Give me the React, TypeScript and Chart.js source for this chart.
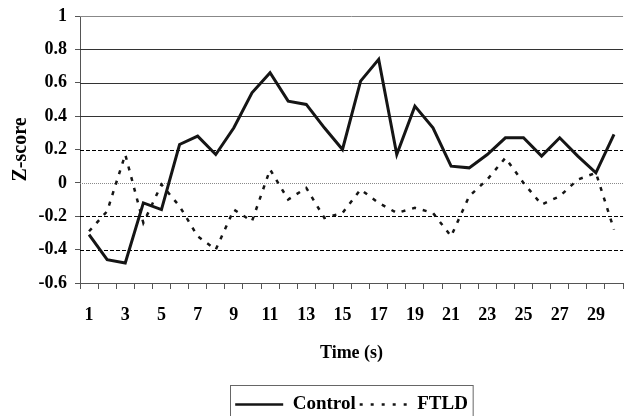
import React, { useEffect, useRef } from "react";
import { Chart, registerables } from "chart.js";

Chart.register(...registerables);

const timeLabels = Array.from({ length: 30 }, (_, i) => String(i + 1));
const controlValues = [-0.31, -0.46, -0.48, -0.12, -0.16, 0.23, 0.28, 0.17, 0.33, 0.54, 0.66, 0.49, 0.47, 0.33, 0.2, 0.61, 0.74, 0.17, 0.46, 0.33, 0.1, 0.09, 0.17, 0.27, 0.27, 0.16, 0.27, 0.16, 0.06, 0.29];
const ftldValues = [-0.29, -0.17, 0.17, -0.24, -0.01, -0.14, -0.32, -0.4, -0.16, -0.23, 0.08, -0.1, -0.03, -0.21, -0.18, -0.04, -0.12, -0.18, -0.15, -0.18, -0.32, -0.08, 0.02, 0.15, 0.0, -0.13, -0.08, 0.02, 0.06, -0.28];
const yTicks = [-0.6, -0.4, -0.2, 0, 0.2, 0.4, 0.6, 0.8, 1];
const seriesNames = ["Control", "FTLD"];

const FONT = '"Liberation Serif", "Times New Roman", serif';

const gridPlugin = {
  id: "customGrid",
  beforeDatasetsDraw(chart: any) {
    const { ctx, chartArea } = chart;
    const y = chart.scales.y;
    ctx.save();
    yTicks.forEach((v) => {
      if (v === -0.6) return;
      const py = Math.round(y.getPixelForValue(v)) + 0.5;
      ctx.beginPath();
      ctx.lineWidth = 1;
      if (v === 0) {
        ctx.strokeStyle = "#8a8a8a";
        ctx.setLineDash([1, 1]);
      } else if (v < 0.3) {
        ctx.strokeStyle = "#000";
        ctx.setLineDash([4, 2]);
      } else if (v === 1) {
        ctx.strokeStyle = "#888";
        ctx.setLineDash([]);
      } else {
        ctx.strokeStyle = "#333";
        ctx.setLineDash([]);
      }
      ctx.moveTo(chartArea.left, py);
      ctx.lineTo(chartArea.right, py);
      ctx.stroke();
    });
    ctx.restore();
  },
};

const legendBoxPlugin = {
  id: "legendBox",
  afterDraw(chart: any) {
    const lg = chart.legend;
    if (!lg || !lg.legendHitBoxes || !lg.legendHitBoxes.length) return;
    const boxes = lg.legendHitBoxes;
    const left = Math.min(...boxes.map((b: any) => b.left)) - 5;
    const right = Math.max(...boxes.map((b: any) => b.left + b.width)) + 5;
    const top = Math.min(...boxes.map((b: any) => b.top)) - 10;
    const { ctx } = chart;
    ctx.save();
    ctx.strokeStyle = "#666";
    ctx.lineWidth = 1;
    ctx.setLineDash([]);
    ctx.strokeRect(Math.round(left) + 0.5, Math.round(top) + 0.5, right - left, 60);
    ctx.restore();
  },
};

export default function App() {
  const ref = useRef<HTMLCanvasElement | null>(null);
  useEffect(() => {
    document.body.style.margin = "0";
    const canvas = ref.current!;
    const chart = new Chart(canvas, {
      type: "line",
      data: {
        labels: timeLabels,
        datasets: [
          {
            label: seriesNames[0],
            data: controlValues,
            borderColor: "#151515",
            borderWidth: 3,
            pointRadius: 0,
            tension: 0,
            fill: false,
          },
          {
            label: seriesNames[1],
            data: ftldValues,
            borderColor: "#151515",
            borderWidth: 2.5,
            borderDash: [4, 7],
            pointRadius: 0,
            tension: 0,
            fill: false,
          },
        ],
      },
      options: {
        responsive: false,
        animation: false,
        devicePixelRatio: 1,
        layout: { padding: { top: 16, right: 0, left: 0, bottom: -8 } },
        plugins: {
          tooltip: { enabled: false },
          legend: {
            display: true,
            position: "bottom",
            fullSize: false,
            labels: {
              usePointStyle: true,
              pointStyleWidth: 48,
              padding: 4,
              color: "#000",
              font: { family: FONT, size: 19, weight: "bold" },
              generateLabels: (c: any) =>
                c.data.datasets.map((ds: any, i: number) => ({
                  text: ds.label,
                  fillStyle: "#151515",
                  strokeStyle: "#151515",
                  lineWidth: 2.5,
                  lineDash: i === 0 ? [] : [3, 8],
                  pointStyle: "line",
                  hidden: false,
                  datasetIndex: i,
                  fontColor: "#000",
                })),
            },
          },
        },
        scales: {
          x: {
            type: "category",
            offset: true,
            grid: {
              offset: true,
              drawOnChartArea: false,
              drawTicks: true,
              tickLength: 6,
              tickColor: "#555",
            },
            border: { display: true, color: "#555", width: 1 },
            ticks: {
              autoSkip: false,
              maxRotation: 0,
              minRotation: 0,
              padding: 16,
              color: "#000",
              font: { family: FONT, size: 18, weight: "bold" },
              callback: (_v: any, idx: number) => (idx % 2 === 0 ? timeLabels[idx] : ""),
            },
            title: {
              display: true,
              text: "Time (s)",
              color: "#000",
              font: { family: FONT, size: 18, weight: "bold" },
              padding: { top: 0, bottom: 27 },
            },
            afterFit: (s: any) => {
              s.height = 108;
            },
          },
          y: {
            type: "linear",
            min: -0.6,
            max: 1,
            afterBuildTicks: (s: any) => {
              s.ticks = yTicks.map((v) => ({ value: v }));
            },
            grid: {
              drawOnChartArea: false,
              drawTicks: true,
              tickLength: 5,
              tickColor: "#555",
            },
            border: { display: true, color: "#555", width: 1 },
            ticks: {
              padding: 8,
              color: "#000",
              font: { family: FONT, size: 18, weight: "bold" },
              callback: (v: any) => {
                const r = Math.round(Number(v) * 10) / 10;
                return r === 0 ? "0" : String(r);
              },
            },
            title: {
              display: true,
              text: "Z-score",
              color: "#000",
              font: { family: FONT, size: 20, weight: "bold" },
              padding: { top: 9, bottom: 0 },
            },
            afterFit: (s: any) => {
              s.width = 80;
              s.paddingTop = 0;
              s.paddingBottom = 0;
            },
          },
        },
      },
      plugins: [gridPlugin, legendBoxPlugin],
    } as any);
    return () => chart.destroy();
  }, []);
  return (
    <canvas
      ref={ref}
      width={630}
      height={416}
      style={{ display: "block", position: "fixed", left: 0, top: 0, width: 630, height: 416 }}
    />
  );
}
